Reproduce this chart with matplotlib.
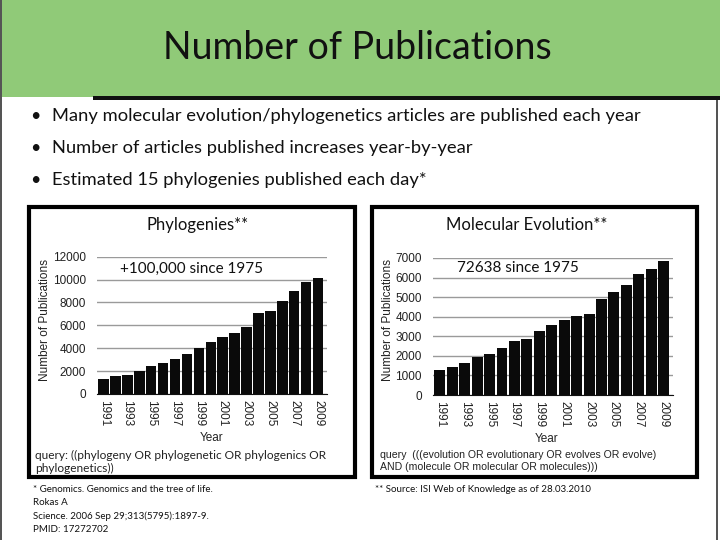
import matplotlib.pyplot as plt
from matplotlib.patches import Rectangle

# dados
anos = list(range(1991, 2010))
filogenias = [1310, 1570, 1660, 2010, 2450, 2710, 3060, 3490, 3990, 4540,
              4980, 5330, 5850, 7100, 7250, 8120, 9000, 9780, 10100]
evol_molecular = [1280, 1430, 1630, 1940, 2090, 2400, 2760, 2860, 3270, 3570,
                  3830, 4030, 4130, 4900, 5260, 5610, 6170, 6430, 6840]
anos_ticks = list(range(1991, 2010, 2))

titulo = "Number of Publications"
topicos = [
    "Many molecular evolution/phylogenetics articles are published each year",
    "Number of articles published increases year-by-year",
    "Estimated 15 phylogenies published each day*",
]

W, H = 720, 540
fig = plt.figure(figsize=(W / 100, H / 100), dpi=100)
fig.patch.set_facecolor("white")

slide_font = ["Lato", "DejaVu Sans"]
chart_font = ["Liberation Sans", "DejaVu Sans"]


def fx(x):
    return x / W


def fy(y):
    return 1 - y / H


def rect(x0, y0, x1, y1, **kw):
    fig.patches.append(Rectangle((fx(x0), fy(y1)), fx(x1) - fx(x0), fy(y0) - fy(y1),
                                 transform=fig.transFigure, **kw))


def texto(x, y, s, **kw):
    kw.setdefault("family", slide_font)
    fig.text(fx(x), fy(y), s, **kw)


# cabeçalho verde
rect(0, 0, 720, 97, facecolor="#90ca78", edgecolor="none")
rect(93, 96, 720, 100, facecolor="#111111", edgecolor="none")
rect(0, 0, 1.5, 540, facecolor="#555555", edgecolor="none")
rect(716, 100, 718, 540, facecolor="#555555", edgecolor="none")
texto(357, 48, titulo, fontsize=27, ha="center", va="center", color="#111111")

for i, t in enumerate(topicos):
    y = 116 + 32 * i
    texto(35, y, "\u2022", fontsize=13, ha="center", va="center", color="#111111")
    texto(52, y, t, fontsize=13.2, ha="left", va="center", color="#111111")

# caixas dos gráficos
rect(29, 207, 355, 477, facecolor="none", edgecolor="black", linewidth=3)
rect(372, 207, 697, 477, facecolor="none", edgecolor="black", linewidth=3)


def grafico(x0, x1, ytop, ybase, valores, ymax, passo):
    ax = fig.add_axes([fx(x0), fy(ybase), fx(x1) - fx(x0), fy(ytop) - fy(ybase)])
    ax.bar(anos, valores, width=0.88, color="#0a0a0a", zorder=3)
    ax.set_xlim(1990.45, 2009.75)
    ax.set_ylim(0, ymax)
    ax.set_yticks(range(0, ymax + 1, passo))
    ax.set_xticks(anos_ticks)
    ax.set_xticklabels([str(a) for a in anos_ticks], rotation=270, family=chart_font,
                       fontsize=8.5, color="#222222")
    for lbl in ax.get_yticklabels():
        lbl.set_family(chart_font)
        lbl.set_fontsize(8.5)
        lbl.set_color("#222222")
    ax.grid(axis="y", color="#9a9a9a", linewidth=1, zorder=0)
    for s in ["left", "right", "top"]:
        ax.spines[s].set_visible(False)
    ax.spines["bottom"].set_color("#111111")
    ax.tick_params(axis="both", length=0, pad=4)
    ax.tick_params(axis="y", pad=8)
    ax.set_facecolor("none")
    return ax


grafico(97, 327, 256.7, 394, filogenias, 12000, 2000)
grafico(433, 673, 258, 395, evol_molecular, 7000, 1000)

# textos do gráfico da esquerda
texto(198, 225, "Phylogenies**", fontsize=12, ha="center", va="center", color="#111111")
texto(120, 269, "+100,000 since 1975", fontsize=11, ha="left", va="center", color="#111111")
texto(45, 320, "Number of Publications", fontsize=8.5, rotation=90, ha="center", va="center",
      family=chart_font, color="#222222")
texto(212, 438, "Year", fontsize=8.5, ha="center", va="center", family=chart_font, color="#222222")
texto(35, 455, "query: ((phylogeny OR phylogenetic OR phylogenics OR", fontsize=8.6,
      ha="left", va="center", color="#222222")
texto(35, 468, "phylogenetics))", fontsize=8.6, ha="left", va="center", color="#222222")

# textos do gráfico da direita
texto(527, 225, "Molecular Evolution**", fontsize=12, ha="center", va="center", color="#111111")
texto(457, 268, "72638 since 1975", fontsize=11, ha="left", va="center", color="#111111")
texto(388, 320, "Number of Publications", fontsize=8.5, rotation=90, ha="center", va="center",
      family=chart_font, color="#222222")
texto(547, 439, "Year", fontsize=8.5, ha="center", va="center", family=chart_font, color="#222222")
texto(380, 455, "query  (((evolution OR evolutionary OR evolves OR evolve)", fontsize=7.6,
      ha="left", va="center", family=chart_font, color="#222222")
texto(380, 467, "AND (molecule OR molecular OR molecules)))", fontsize=7.6,
      ha="left", va="center", family=chart_font, color="#222222")

# notas de rodapé
rodape = ["* Genomics. Genomics and the tree of life.", "Rokas A",
          "Science. 2006 Sep 29;313(5795):1897-9.", "PMID: 17272702"]
for i, t in enumerate(rodape):
    texto(33, 489 + 13.5 * i, t, fontsize=7, ha="left", va="center", color="#111111")
texto(375, 489, "** Source: ISI Web of Knowledge as of 28.03.2010", fontsize=7,
      ha="left", va="center", color="#111111")

plt.savefig("out.png", dpi=100)
